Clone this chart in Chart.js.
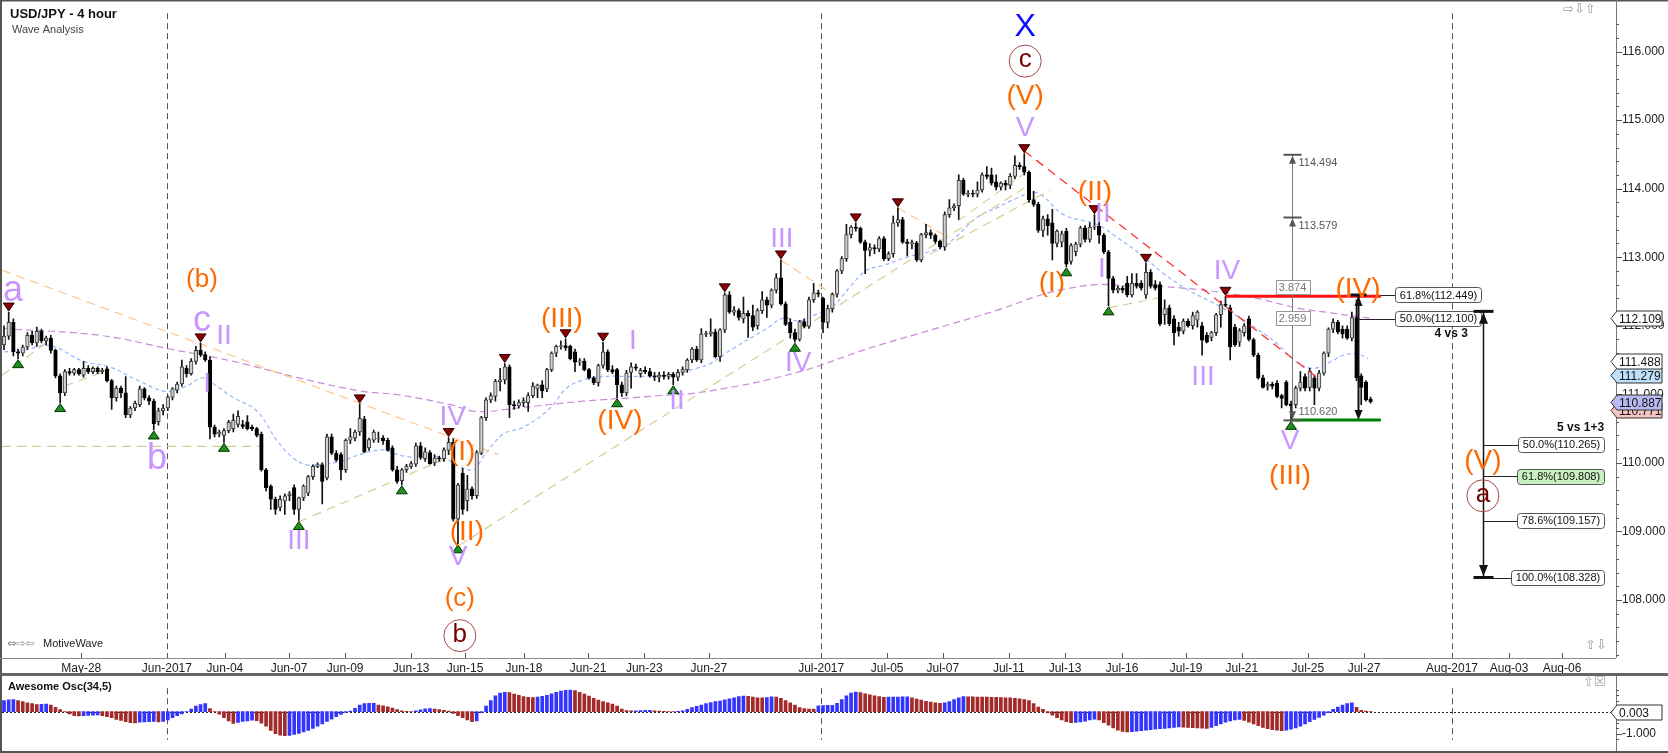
<!DOCTYPE html>
<html>
<head>
<meta charset="utf-8">
<title>USD/JPY - 4 hour</title>
<script src="https://cdn.jsdelivr.net/npm/chart.js@4.4.1/dist/chart.umd.min.js"></script>
<style>
html,body{margin:0;padding:0;background:#fff;overflow:hidden;}
#wrap{position:relative;width:1668px;height:753px;background:#fff;}
canvas{position:absolute;left:0;display:block;}
#c1{top:0;}
#c2{top:675px;}
</style>
</head>
<body>
<div id="wrap">
<canvas id="c1" width="1668" height="675"></canvas>
<canvas id="c2" width="1668" height="78"></canvas>
</div>
<script>
// ---------------- DATA (4-hour candles, bar index 0..292) ----------------
const open = [
111.72,111.85,112.05,111.62,111.60,111.69,111.86,111.75,111.92,111.78,
111.82,111.64,111.27,111.02,111.33,111.31,111.36,111.28,111.38,111.33,
111.38,111.33,111.37,111.20,110.95,111.09,111.02,110.70,110.80,110.85,
111.08,110.95,110.90,110.60,110.76,110.80,110.96,111.06,111.15,111.38,
111.30,111.48,111.64,111.58,111.50,110.52,110.42,110.40,110.47,110.50,
110.56,110.56,110.60,110.52,110.50,110.42,109.90,109.66,109.47,109.35,
109.44,109.52,109.64,109.32,109.49,109.56,109.80,109.95,109.97,109.78,
110.38,110.14,110.12,109.90,110.33,110.36,110.45,110.64,110.22,110.33,
110.35,110.36,110.33,110.22,109.90,109.74,109.90,109.95,109.98,110.25,
110.06,110.15,110.00,110.07,110.06,110.18,110.30,109.18,109.85,109.45,
109.62,109.52,110.14,110.66,110.92,110.97,111.18,111.21,111.40,110.85,
110.83,110.88,110.88,110.98,111.08,111.14,111.08,111.36,111.60,111.70,
111.71,111.70,111.62,111.47,111.48,111.36,111.24,111.17,111.42,111.62,
111.36,111.36,111.14,111.02,111.32,111.40,111.30,111.35,111.33,111.27,
111.25,111.28,111.26,111.29,111.25,111.32,111.36,111.50,111.66,111.50,
111.88,111.88,111.91,111.55,111.94,112.45,112.20,112.22,112.10,112.18,
112.15,112.00,112.22,112.38,112.30,112.52,112.70,112.32,112.05,111.90,
111.80,112.06,111.99,112.38,112.48,112.40,112.05,112.25,112.46,112.80,
112.98,113.33,113.44,113.42,113.22,113.10,113.14,113.12,113.27,112.98,
113.05,113.50,113.55,113.22,113.20,113.21,112.96,113.33,113.36,113.32,
113.23,113.15,113.62,113.72,113.75,114.12,113.92,113.93,113.92,113.98,
114.20,114.20,114.10,114.02,114.08,114.05,114.18,114.34,114.32,114.24,
113.84,113.77,113.39,113.56,113.50,113.20,113.22,113.38,112.94,113.08,
113.19,113.43,113.26,113.44,113.45,113.32,113.08,112.69,112.52,112.55,
112.62,112.45,112.62,112.62,112.45,112.78,112.60,112.60,112.16,112.26,
112.10,111.98,111.92,112.07,112.00,112.08,112.00,111.86,111.83,111.90,
112.16,112.31,112.26,111.98,111.76,111.90,112.10,111.80,111.57,111.24,
111.12,111.15,111.16,110.98,111.18,110.86,110.85,111.09,111.26,111.10,
111.24,111.09,111.31,111.60,111.95,112.05,111.95,111.95,111.82,112.12,
111.27,111.18,110.93];
const high = [
112.00,112.20,112.10,111.66,111.72,111.90,111.92,111.98,111.95,111.85,
111.86,111.66,111.30,111.36,111.38,111.38,111.38,111.48,111.42,111.40,
111.40,111.38,111.40,111.22,111.12,111.12,111.26,110.82,110.90,111.12,
111.10,110.98,110.93,110.80,110.85,110.98,111.10,111.18,111.50,111.42,
111.52,111.70,111.75,111.62,111.55,110.55,110.48,110.50,110.62,110.71,
110.76,110.62,110.69,110.55,110.52,110.45,109.92,109.68,109.50,109.52,
109.55,109.58,109.68,109.50,109.68,109.82,109.97,110.00,110.00,110.42,
110.42,110.18,110.15,110.35,110.50,110.48,110.86,110.68,110.36,110.48,
110.45,110.40,110.36,110.25,109.95,109.92,109.98,110.02,110.29,110.30,
110.22,110.18,110.12,110.10,110.22,110.37,110.35,109.70,109.92,109.82,
109.65,110.18,110.68,110.95,111.02,111.22,111.38,111.45,111.43,110.90,
110.92,110.95,111.02,111.17,111.15,111.20,111.38,111.62,111.72,111.78,
111.81,111.72,111.66,111.52,111.52,111.38,111.26,111.44,111.76,111.65,
111.42,111.38,111.18,111.35,111.46,111.44,111.38,111.40,111.38,111.32,
111.32,111.33,111.32,111.32,111.36,111.40,111.52,111.68,111.70,111.96,
111.92,112.10,111.95,111.96,112.48,112.50,112.28,112.25,112.42,112.22,
112.30,112.25,112.50,112.42,112.54,112.76,112.96,112.35,112.10,111.95,
112.08,112.10,112.42,112.62,112.52,112.42,112.30,112.48,112.82,113.01,
113.48,113.46,113.50,113.44,113.25,113.20,113.18,113.30,113.30,113.08,
113.60,113.72,113.58,113.26,113.25,113.23,113.35,113.48,113.40,113.34,
113.25,113.66,113.84,113.78,114.20,114.15,113.97,113.98,114.10,114.23,
114.32,114.30,114.20,114.10,114.12,114.22,114.48,114.38,114.51,114.26,
113.96,113.80,113.60,113.62,113.70,113.40,113.38,113.42,113.20,113.22,
113.45,113.46,113.50,113.62,113.52,113.35,113.10,112.72,112.58,112.58,
112.72,112.76,112.76,112.66,112.91,112.82,112.66,112.64,112.38,112.30,
112.15,112.05,112.10,112.10,112.20,112.22,112.05,111.90,111.92,112.18,
112.36,112.43,112.30,112.02,111.96,112.03,112.14,111.82,111.60,111.28,
111.18,111.18,111.20,111.00,111.20,110.90,111.12,111.33,111.30,111.38,
111.28,111.35,111.62,111.97,112.10,112.08,112.00,112.00,112.20,112.38,
111.30,111.20,110.96];
const low = [
111.65,111.80,111.56,111.52,111.56,111.66,111.72,111.70,111.75,111.72,
111.60,111.24,110.88,110.98,111.28,111.28,111.28,111.25,111.30,111.30,
111.30,111.30,111.18,110.78,110.90,110.95,110.66,110.66,110.76,110.82,
110.92,110.85,110.48,110.55,110.70,110.76,110.92,111.02,111.12,111.25,
111.28,111.44,111.55,111.48,110.35,110.38,110.38,110.30,110.44,110.45,
110.52,110.50,110.48,110.47,110.38,109.88,109.59,109.32,109.25,109.30,
109.25,109.45,109.25,109.16,109.45,109.52,109.76,109.93,109.40,109.75,
110.12,110.02,109.75,109.86,110.28,110.32,110.40,110.15,110.18,110.30,
110.30,110.27,110.17,109.88,109.70,109.68,109.86,109.92,109.95,110.05,
110.02,109.98,109.96,110.02,110.02,110.12,109.15,108.82,109.25,109.30,
109.47,109.48,110.12,110.62,110.88,110.90,111.05,111.15,110.66,110.78,
110.80,110.82,110.75,110.95,110.95,110.95,111.04,111.33,111.55,111.66,
111.64,111.50,111.33,111.42,111.34,111.22,111.14,111.12,111.38,111.33,
111.30,110.95,110.97,110.98,111.09,111.35,111.25,111.30,111.25,111.20,
111.18,111.22,111.22,111.14,111.20,111.28,111.32,111.46,111.48,111.46,
111.84,111.85,111.53,111.48,111.90,112.18,112.15,112.08,112.04,111.83,
111.93,111.95,112.18,112.12,112.26,112.48,112.30,112.00,111.82,111.76,
111.78,111.97,111.96,112.34,112.42,111.90,111.97,112.20,112.42,112.76,
112.94,113.28,113.38,113.20,112.76,113.02,113.05,113.08,112.95,112.95,
113.00,113.45,113.20,113.02,113.12,112.94,112.93,113.28,113.27,113.20,
113.12,113.10,113.58,113.68,113.55,113.90,113.88,113.88,113.88,113.95,
114.14,114.05,113.98,113.98,113.98,114.00,114.14,114.28,114.20,113.80,
113.74,113.36,113.30,113.32,112.96,113.15,113.15,112.86,112.90,113.02,
113.15,113.22,113.22,113.40,113.20,113.05,112.29,112.48,112.48,112.48,
112.42,112.42,112.55,112.52,112.40,112.55,112.52,112.00,112.02,112.00,
111.72,111.85,111.88,111.98,111.95,111.98,111.57,111.75,111.78,111.86,
111.98,112.28,111.50,111.70,111.70,111.85,111.78,111.55,111.22,111.09,
111.06,111.08,110.95,110.80,110.83,110.62,110.80,111.05,111.05,111.05,
110.85,111.05,111.28,111.55,111.90,111.88,111.82,111.80,111.78,111.20,
110.85,110.90,110.87];
const close = [
111.85,112.05,111.62,111.60,111.69,111.86,111.75,111.92,111.78,111.82,
111.64,111.27,111.02,111.33,111.31,111.36,111.30,111.38,111.33,111.38,
111.33,111.35,111.20,110.95,111.09,111.02,110.70,110.80,110.87,111.08,
110.95,110.90,110.57,110.76,110.80,110.96,111.08,111.15,111.40,111.30,
111.48,111.64,111.58,111.50,110.52,110.42,110.45,110.47,110.59,110.62,
110.68,110.53,110.50,110.50,110.40,109.90,109.64,109.47,109.32,109.47,
109.52,109.55,109.32,109.49,109.66,109.80,109.95,109.97,109.73,110.38,
110.14,110.04,109.90,110.33,110.38,110.45,110.65,110.16,110.34,110.45,
110.36,110.32,110.18,109.90,109.73,109.90,109.95,109.99,110.25,110.08,
110.16,109.99,110.07,110.06,110.19,110.30,109.18,109.68,109.32,109.62,
109.52,110.15,110.66,110.92,110.98,111.19,111.21,111.40,110.85,110.83,
110.88,110.91,110.98,111.12,111.14,111.05,111.36,111.60,111.70,111.71,
111.68,111.52,111.47,111.49,111.36,111.24,111.17,111.42,111.62,111.36,
111.33,111.14,111.02,111.31,111.40,111.38,111.35,111.33,111.27,111.25,
111.28,111.26,111.29,111.25,111.32,111.36,111.50,111.66,111.50,111.88,
111.88,111.91,111.55,111.94,112.45,112.20,112.22,112.12,112.18,112.14,
111.98,112.22,112.38,112.30,112.52,112.70,112.32,112.02,111.90,111.80,
112.06,111.99,112.38,112.48,112.46,112.05,112.25,112.46,112.80,112.98,
113.33,113.44,113.42,113.22,113.10,113.14,113.12,113.27,112.98,113.05,
113.50,113.55,113.22,113.20,113.21,112.96,113.33,113.36,113.32,113.23,
113.15,113.62,113.72,113.75,114.12,113.92,113.93,113.92,113.98,114.20,
114.18,114.08,114.02,114.08,114.05,114.18,114.34,114.32,114.24,113.84,
113.77,113.39,113.56,113.46,113.20,113.38,113.34,112.90,113.17,113.19,
113.43,113.26,113.44,113.45,113.32,113.08,112.69,112.52,112.55,112.52,
112.45,112.62,112.58,112.55,112.78,112.58,112.55,112.03,112.25,112.03,
111.90,111.92,112.07,112.00,112.15,112.20,111.79,111.76,111.90,112.16,
112.31,112.30,111.69,111.72,111.93,112.00,111.80,111.57,111.24,111.10,
111.15,111.12,110.97,110.94,110.85,110.83,111.09,111.18,111.09,111.34,
111.09,111.31,111.60,111.95,112.05,111.91,111.88,111.82,112.12,111.24,
111.10,110.92,110.89];

// Awesome Oscillator (34,5) values per bar
const aoValues = [
0.50,0.53,0.55,0.50,0.45,0.40,0.36,0.32,0.33,0.34,
0.30,0.19,0.09,0.00,-0.10,-0.18,-0.20,-0.19,-0.17,-0.16,
-0.15,-0.18,-0.23,-0.28,-0.35,-0.40,-0.46,-0.50,-0.51,-0.48,
-0.47,-0.46,-0.45,-0.47,-0.44,-0.38,-0.28,-0.18,-0.10,0.00,
0.12,0.25,0.32,0.36,0.14,0.00,-0.12,-0.28,-0.42,-0.54,
-0.49,-0.45,-0.42,-0.39,-0.41,-0.52,-0.66,-0.85,-1.00,-1.07,
-1.09,-1.08,-1.04,-0.99,-0.92,-0.85,-0.76,-0.66,-0.56,-0.45,
-0.34,-0.23,-0.13,-0.04,0.02,0.15,0.30,0.36,0.37,0.375,
0.30,0.26,0.22,0.16,0.09,0.03,0.01,0.005,0.03,0.08,
0.13,0.135,0.11,0.09,0.06,0.02,-0.08,-0.18,-0.28,-0.38,
-0.46,-0.42,-0.05,0.25,0.50,0.72,0.84,0.88,0.86,0.80,
0.74,0.68,0.65,0.64,0.66,0.69,0.74,0.81,0.88,0.93,
0.97,0.98,0.95,0.88,0.80,0.70,0.60,0.52,0.45,0.40,
0.34,0.25,0.12,0.05,0.03,0.04,0.05,0.055,0.06,0.04,
0.02,0.01,0.00,-0.005,0.01,0.03,0.10,0.18,0.24,0.30,
0.36,0.41,0.45,0.48,0.53,0.58,0.63,0.68,0.71,0.69,
0.66,0.63,0.62,0.64,0.67,0.66,0.60,0.50,0.40,0.30,
0.18,0.14,0.12,0.11,0.26,0.27,0.28,0.29,0.38,0.55,
0.72,0.84,0.89,0.86,0.81,0.76,0.72,0.68,0.65,0.655,
0.66,0.665,0.67,0.675,0.62,0.57,0.52,0.47,0.43,0.40,
0.38,0.40,0.46,0.55,0.62,0.68,0.675,0.67,0.665,0.66,
0.655,0.65,0.645,0.64,0.63,0.62,0.60,0.58,0.55,0.50,
0.36,0.20,0.10,-0.06,-0.16,-0.28,-0.38,-0.46,-0.50,-0.49,
-0.47,-0.43,-0.38,-0.34,-0.38,-0.50,-0.62,-0.74,-0.84,-0.90,
-0.92,-0.91,-0.89,-0.86,-0.84,-0.82,-0.80,-0.78,-0.76,-0.74,
-0.72,-0.70,-0.71,-0.72,-0.73,-0.74,-0.75,-0.76,-0.72,-0.64,
-0.56,-0.48,-0.42,-0.38,-0.36,-0.40,-0.48,-0.56,-0.64,-0.72,
-0.78,-0.82,-0.84,-0.86,-0.84,-0.80,-0.74,-0.66,-0.56,-0.46,
-0.36,-0.26,-0.16,-0.05,0.10,0.20,0.30,0.36,0.40,0.19,
0.06,0.02,0.003];

// Date axis: tick positions (bar index) and labels
const xTickIdx = [16.5,34.8,47.2,60.9,72.9,87.0,98.5,111.1,124.8,136.8,150.6,174.6,188.7,200.6,214.7,226.7,238.9,252.6,264.5,278.6,290.6,309.4,321.6,332.9];
const xTickLabels = ['May-28','Jun-2017','Jun-04','Jun-07','Jun-09','Jun-13','Jun-15','Jun-18','Jun-21','Jun-23','Jun-27','Jul-2017','Jul-05','Jul-07','Jul-11','Jul-13','Jul-16','Jul-19','Jul-21','Jul-25','Jul-27','Aug-2017','Aug-03','Aug-06'];
const priceTicks = [108,109,110,111,112,113,114,115,116];

// Moving averages (bar index, price)
const slowMaX = [0,20.5,34.8,49,63,76,84.6,95.3,101,109.6,123.8,138,150.9,170,184.3,198.6,212.8,220.7,226.4,233.5,240.6,247.8,254.8,262,269,276.2,283.3,289.7,292];
const slowMaY = [111.96,111.86,111.67,111.48,111.24,111.05,110.99,110.85,110.75,110.80,110.90,110.97,111.05,111.33,111.66,111.95,112.24,112.43,112.53,112.60,112.58,112.57,112.53,112.47,112.38,112.26,112.19,112.13,112.11];
const fastMaX = [0,4,9.8,17,22.6,29,34.8,39,42.6,45.4,49,54,58.3,61.8,64.7,67.5,71.8,76,81,84.6,88.2,93.9,96.7,100.3,102.4,106.7,111,116.7,120.2,123.8,128,134.4,141.6,148,150.9,155.8,163,166.5,170,173.6,177.2,180.8,184.3,187.9,192.9,198.6,202.1,207.9,212.1,216.4,220.7,226.4,233.5,237.8,242.7,247.8,252.8,258.5,263.5,267.8,272,276.2,279.8,283.3,286.2,289,291.5];
const fastMaY = [111.62,111.64,111.71,111.48,111.40,111.19,111.04,111.12,111.24,111.12,110.95,110.76,110.33,110.07,109.97,109.98,110.02,110.12,110.19,110.11,110.08,110.08,109.97,109.90,110.09,110.42,110.52,110.80,111.09,111.21,111.26,111.26,111.28,111.38,111.45,111.67,111.96,112.11,112.07,112.17,112.29,112.57,112.81,112.88,113.00,113.10,113.22,113.58,113.72,113.86,113.94,113.62,113.48,113.29,113.05,112.76,112.53,112.33,112.14,111.95,111.74,111.47,111.38,111.47,111.57,111.59,111.52];

// Trend / channel lines [i1, p1, i2, p2]
const orangeLines = [[-0.4,112.81,105.6,110.12],[166,112.96,179.3,112.36],[191,113.72,202.2,113.27]];
const khakiLines = [[-0.4,110.24,55.4,110.24],[-0.4,111.28,9.8,111.79],[12.9,111.12,22.6,111.36],[63,109.14,95.3,110.09],[97.3,108.80,218,114.01],[195,112.94,223.5,113.98],[203.9,113.53,218.6,114.25],[236,112.26,248.4,112.43]];
const redDashLine = [218,114.55,280.5,111.25];
const resistanceLine = [261,112.43,294.2,112.43];
const supportLine = [275,110.625,294.2,110.625];

// Swing markers (bar indices)
const highMarks = [1,42,76,95,107,120,128,154,166,182,191,218,233,244,261];
const lowMarks = [3,12,32,47,63,85,97,131,143,169,227,236,275];

// Wave labels: text, bar index, price, kind, size
const waveLabels = [
['a',1.9,112.50,'P',36],['(b)',42.3,112.67,'O',26],['c',42.3,112.07,'P',36],['II',47.0,111.84,'P',28],
['I',43.4,111.14,'P',28],['b',32.7,110.06,'P',36],['III',63.0,108.85,'P',28],['IV',95.9,110.67,'P',28],
['(I)',97.9,110.16,'O',28],['(II)',98.9,108.99,'O',28],['V',97.0,108.62,'P',28],['(c)',97.4,108.01,'O',26],
['b',97.4,107.48,'C',26],['(III)',119.2,112.10,'O',28],['(IV)',131.6,110.61,'O',28],['I',134.4,111.78,'P',28],
['II',143.8,110.90,'P',28],['III',166.2,113.26,'P',28],['IV',169.7,111.46,'P',28],['X',218.2,116.36,'B',32],
['c',218.2,115.86,'C',26],['(V)',218.2,115.35,'O',28],['V',218.2,114.88,'P',28],['(II)',233.1,113.94,'O',28],
['II',234.8,113.62,'P',28],['I',234.6,112.83,'P',28],['(I)',223.9,112.62,'O',28],['IV',261.3,112.79,'P',28],
['III',256.2,111.25,'P',28],['V',274.8,110.32,'P',28],['(III)',274.8,109.81,'O',28],['(IV)',289.3,112.53,'O',28],
['(V)',316.0,110.02,'O',28],['a',316.0,109.52,'C',26]];

// Measurement tool and Fibonacci projections
const measureIdx = 275.15, measureLow = 110.62, measureTop = 114.494, measureMid = 113.579;
const measureBoxes = [['3.874',112.57],['2.959',112.11]];
const waveIVArrow = {i:289.3, top:112.449, bottom:110.625};
const fibLeft = [['61.8%(112.449)',112.449,294.2,'#ffffff'],['50.0%(112.100)',112.100,289.3,'#ffffff']];
const fibLeftBoxX = 297.2;
const projArrow = {i:316.0, top:112.21, bottom:108.328};
const fibRight = [['50.0%(110.265)',110.265,'#ffffff'],['61.8%(109.808)',109.808,'#c8f0c0'],['78.6%(109.157)',109.157,'#ffffff'],['100.0%(108.328)',108.328,'#ffffff']];
const fibRightBoxEnd = 341.9;
const noteLabels = [['4 vs 3',312.8,111.885],['5 vs 1+3',341.9,110.509]];
const axisTags = [[110.771,'#f6c4c4'],[110.887,'#b8b8f2'],[111.279,'#bfe0f8'],[111.488,'#ffffff'],[112.109,'#ffffff']];
const aoLast = 0.003;

// ---------------- RENDERING ----------------
const FONT = '"Liberation Sans", Arial, sans-serif';
const idx = close.map((_, i) => i);
const isUp = idx.map(i => close[i] >= open[i]);
const wickData = idx.map(i => ({x: i, y: [Math.min(low[i], open[i], close[i]), Math.max(high[i], open[i], close[i])]}));
const bodyData = idx.map(i => {
  let a = Math.min(open[i], close[i]), b = Math.max(open[i], close[i]);
  if (b - a < 0.014) { const m = (a + b) / 2; a = m - 0.007; b = m + 0.007; }
  return {x: i, y: [a, b]};
});
const pts = (xs, ys) => xs.map((x, k) => ({x: x, y: ys[k]}));
const seg = s => [{x: s[0], y: s[1]}, {x: s[2], y: s[3]}];
const monthIdx = xTickIdx.filter((v, k) => xTickLabels[k].indexOf('2017') >= 0);
const X_MIN = -0.43, X_MAX = 344.44;

function lineDs(data, color, dash, width, order, tension) {
  return {type: 'line', data: data, borderColor: color, borderDash: dash, borderWidth: width,
    pointRadius: 0, fill: false, tension: tension || 0, order: order};
}

const datasets1 = [];
datasets1.push(lineDs(pts(slowMaX, slowMaY), '#c98ad8', [7, 4], 1.2, 6, 0.4));
datasets1.push(lineDs(pts(fastMaX, fastMaY), '#93b5ff', [4, 3], 1.2, 6, 0.4));
orangeLines.forEach(s => datasets1.push(lineDs(seg(s), '#ffc68c', [9, 6], 1.2, 5)));
khakiLines.forEach(s => datasets1.push(lineDs(seg(s), '#d6cc96', [9, 6], 1.2, 5)));
datasets1.push({type: 'bar', data: wickData, backgroundColor: '#111', barThickness: 1, grouped: false, order: 3});
datasets1.push({type: 'bar', data: bodyData, backgroundColor: isUp.map(u => u ? '#cfcfcf' : '#000'),
  borderColor: isUp.map(u => u ? '#3a3a3a' : '#000'), borderWidth: 1, borderSkipped: false,
  barThickness: 3.6, grouped: false, order: 2});
datasets1.push(lineDs(seg(redDashLine), '#ff3030', [9, 6], 1.3, 1));
datasets1.push(lineDs(seg(resistanceLine), '#ff1010', [], 3, 0));
datasets1.push(lineDs(seg(supportLine), '#008000', [], 3, 0));

function tri(ctx, x, y, w, h, dir, fill, stroke) {
  ctx.beginPath();
  if (dir === 'down') { ctx.moveTo(x - w / 2, y - h / 2); ctx.lineTo(x + w / 2, y - h / 2); ctx.lineTo(x, y + h / 2); }
  else { ctx.moveTo(x - w / 2, y + h / 2); ctx.lineTo(x + w / 2, y + h / 2); ctx.lineTo(x, y - h / 2); }
  ctx.closePath(); ctx.fillStyle = fill; ctx.fill();
  if (stroke) { ctx.strokeStyle = stroke; ctx.lineWidth = 1; ctx.stroke(); }
}
function hline(ctx, x1, x2, y, color, w) {
  ctx.strokeStyle = color; ctx.lineWidth = w || 1; ctx.beginPath();
  ctx.moveTo(x1, Math.round(y) + 0.5); ctx.lineTo(x2, Math.round(y) + 0.5); ctx.stroke();
}
function rrect(ctx, x, y, w, h, r) {
  ctx.beginPath(); ctx.moveTo(x + r, y); ctx.lineTo(x + w - r, y); ctx.quadraticCurveTo(x + w, y, x + w, y + r);
  ctx.lineTo(x + w, y + h - r); ctx.quadraticCurveTo(x + w, y + h, x + w - r, y + h); ctx.lineTo(x + r, y + h);
  ctx.quadraticCurveTo(x, y + h, x, y + h - r); ctx.lineTo(x, y + r); ctx.quadraticCurveTo(x, y, x + r, y); ctx.closePath();
}
function fibBox(ctx, xEdge, yc, txt, bg, alignRight) {
  ctx.font = '11px ' + FONT;
  const w = Math.ceil(ctx.measureText(txt).width) + 8, h = 15;
  const left = Math.round(alignRight ? xEdge - w : xEdge) + 0.5, top = Math.round(yc - h / 2) + 0.5;
  rrect(ctx, left, top, w, h, 3); ctx.fillStyle = bg; ctx.fill(); ctx.strokeStyle = '#555'; ctx.lineWidth = 1; ctx.stroke();
  ctx.fillStyle = '#111'; ctx.textAlign = 'center'; ctx.textBaseline = 'middle'; ctx.fillText(txt, left + w / 2, yc + 0.5);
  return left;
}
function axisTag(ctx, x, y, txt, bg) {
  const h = 15, w = 51; y = Math.round(y) + 0.5;
  ctx.beginPath(); ctx.moveTo(x, y); ctx.lineTo(x + 6, y - h / 2); ctx.lineTo(x + w, y - h / 2); ctx.lineTo(x + w, y + h / 2);
  ctx.lineTo(x + 6, y + h / 2); ctx.closePath(); ctx.fillStyle = bg; ctx.fill(); ctx.strokeStyle = '#333'; ctx.lineWidth = 1; ctx.stroke();
  ctx.fillStyle = '#111'; ctx.font = '12px ' + FONT; ctx.textAlign = 'left'; ctx.textBaseline = 'middle'; ctx.fillText(txt, x + 8, y + 1);
}
function monthLines(chart) {
  const {ctx, chartArea: a, scales: {x}} = chart;
  ctx.save(); ctx.strokeStyle = '#555'; ctx.lineWidth = 1; ctx.setLineDash([6, 4]);
  monthIdx.forEach(v => { const px = Math.round(x.getPixelForValue(v)) + 0.5; ctx.beginPath(); ctx.moveTo(px, a.top); ctx.lineTo(px, a.bottom); ctx.stroke(); });
  ctx.restore();
}

const overlay1 = {
  id: 'overlay1',
  beforeDatasetsDraw(chart) { monthLines(chart); },
  afterDraw(chart) {
    const {ctx, chartArea: a, scales: {x, y}} = chart;
    const X = v => x.getPixelForValue(v), Y = v => y.getPixelForValue(v);
    ctx.save();
    // swing markers
    highMarks.forEach(i => tri(ctx, X(i), Y(high[i]) - 5, 11, 8, 'down', '#8b0000', '#2a0000'));
    lowMarks.forEach(i => tri(ctx, X(i), Y(low[i]) + 5, 11, 8, 'up', '#1f8f1f', '#003300'));

    // grey measurement tool
    const mx = Math.round(X(measureIdx)) + 0.5;
    ctx.strokeStyle = '#7a7a7a'; ctx.lineWidth = 1; ctx.beginPath(); ctx.moveTo(mx, Y(measureLow)); ctx.lineTo(mx, Y(measureTop)); ctx.stroke();
    [measureTop, measureMid].forEach(p => {
      const py = Y(p); ctx.fillStyle = '#555'; ctx.fillRect(mx - 9, py - 1, 18, 2);
      tri(ctx, mx, py + 5, 7, 8, 'up', '#555');
      ctx.fillStyle = '#555'; ctx.font = '11px ' + FONT; ctx.textAlign = 'left'; ctx.textBaseline = 'middle';
      ctx.fillText(p.toFixed(3), mx + 6, py + 8);
    });
    const pyl = Y(measureLow);
    tri(ctx, mx, pyl - 5, 7, 8, 'down', '#555'); ctx.fillStyle = '#555'; ctx.fillRect(mx - 9, pyl - 1, 18, 2);
    ctx.fillStyle = '#666'; ctx.font = '11px ' + FONT; ctx.textAlign = 'left'; ctx.textBaseline = 'middle';
    ctx.fillText(measureLow.toFixed(3), mx + 6, pyl - 8);
    measureBoxes.forEach(b => {
      ctx.font = '11px ' + FONT; const w = Math.ceil(ctx.measureText(b[0]).width) + 6, h = 14, yc = Y(b[1]);
      const l = Math.round(mx - w / 2) + 0.5, t = Math.round(yc - h / 2) + 0.5;
      ctx.fillStyle = '#fff'; ctx.fillRect(l, t, w, h); ctx.strokeStyle = '#999'; ctx.strokeRect(l, t, w, h);
      ctx.fillStyle = '#777'; ctx.textAlign = 'center'; ctx.fillText(b[0], mx, yc + 1);
    });

    // wave (IV) arrow
    const ax = Math.round(X(waveIVArrow.i)) + 0.5, at = Y(waveIVArrow.top), ab = Y(waveIVArrow.bottom);
    ctx.strokeStyle = '#111'; ctx.lineWidth = 2; ctx.beginPath(); ctx.moveTo(ax, at); ctx.lineTo(ax, ab - 6); ctx.stroke();
    ctx.fillStyle = '#111'; ctx.fillRect(ax - 8, at - 1.5, 16, 3);
    tri(ctx, ax, at + 6, 8, 10, 'up', '#111');
    tri(ctx, ax, ab - 5, 8, 10, 'down', '#111');

    // fib lines from wave (IV)
    fibLeft.forEach(f => {
      const yy = Y(f[1]); hline(ctx, X(f[2]), X(fibLeftBoxX), yy, '#222', 1);
      fibBox(ctx, X(fibLeftBoxX), yy, f[0], f[3], false);
    });

    // projection arrow
    const px = Math.round(X(projArrow.i)) + 0.5, pt = Y(projArrow.top), pb = Y(projArrow.bottom);
    ctx.strokeStyle = '#111'; ctx.lineWidth = 1.5; ctx.beginPath(); ctx.moveTo(px, pt); ctx.lineTo(px, pb); ctx.stroke();
    ctx.fillStyle = '#111'; ctx.fillRect(px - 10, pt - 1.5, 20, 3); ctx.fillRect(px - 10, pb - 1.5, 20, 3);
    tri(ctx, px, pt + 7, 9, 11, 'up', '#111');
    tri(ctx, px, pb - 7, 9, 11, 'down', '#111');
    fibRight.forEach(f => {
      const yy = Y(f[1]);
      ctx.font = '11px ' + FONT; const w = Math.ceil(ctx.measureText(f[0]).width) + 8;
      hline(ctx, px, X(fibRightBoxEnd) - w, yy, '#222', 1);
      fibBox(ctx, X(fibRightBoxEnd), yy, f[0], f[2], true);
    });
    noteLabels.forEach(n => {
      ctx.fillStyle = '#111'; ctx.font = 'bold 12px ' + FONT; ctx.textAlign = 'right'; ctx.textBaseline = 'middle';
      ctx.fillText(n[0], X(n[1]), Y(n[2]));
    });

    // wave labels
    const colors = {P: '#c896ff', O: '#ff6a00', B: '#0a0aff', C: '#7a0000'};
    waveLabels.forEach(l => {
      const lx = X(l[1]), ly = Y(l[2]);
      if (l[3] === 'C') {
        ctx.beginPath(); ctx.arc(lx, ly, 16, 0, Math.PI * 2); ctx.strokeStyle = '#a84a4a'; ctx.lineWidth = 1; ctx.stroke();
      }
      ctx.fillStyle = colors[l[3]]; ctx.font = l[4] + 'px ' + FONT; ctx.textAlign = 'center'; ctx.textBaseline = 'middle';
      ctx.fillText(l[0], lx, ly + (l[3] === 'C' ? -1 : 0));
    });

    // frame & axes
    ctx.fillStyle = '#555'; ctx.fillRect(0, 0, 1668, 1.5); ctx.fillRect(0, 0, 2, 675);
    ctx.fillStyle = '#666'; ctx.fillRect(0, 673, 1668, 2);
    hline(ctx, 0, a.right, a.bottom, '#8a8a8a', 1);
    ctx.strokeStyle = '#777'; ctx.lineWidth = 1; ctx.beginPath(); ctx.moveTo(a.right + 0.5, 0); ctx.lineTo(a.right + 0.5, a.bottom); ctx.stroke();
    // y ticks
    ctx.strokeStyle = '#555';
    y.ticks.forEach(t => {
      const yy = Math.round(Y(t.value)) + 0.5; const major = priceTicks.indexOf(Math.round(t.value * 10) / 10) >= 0;
      ctx.beginPath(); ctx.moveTo(a.right, yy); ctx.lineTo(a.right + (major ? 6 : 3), yy); ctx.stroke();
    });
    // x ticks (inside plot)
    xTickIdx.forEach(v => { const xx = Math.round(X(v)) + 0.5; ctx.beginPath(); ctx.moveTo(xx, a.bottom); ctx.lineTo(xx, a.bottom - 5); ctx.stroke(); });

    // right axis value tags
    axisTags.forEach(t => axisTag(ctx, a.right - 5, Y(t[0]), t[0].toFixed(3), t[1]));

    // titles & icons
    ctx.fillStyle = '#111'; ctx.font = 'bold 13px ' + FONT; ctx.textAlign = 'left'; ctx.textBaseline = 'middle';
    ctx.fillText('USD/JPY - 4 hour', 10, 14);
    ctx.fillStyle = '#444'; ctx.font = '11px ' + FONT; ctx.fillText('Wave Analysis', 12, 30);
    ctx.fillStyle = '#999'; ctx.font = '13px "DejaVu Sans", sans-serif'; ctx.fillText('\u21E8\u21E9\u21E7', 1563, 10);
    ctx.fillText('\u21E7\u21E9', 1585, 646);
    ctx.fillStyle = '#888'; ctx.font = '11px "DejaVu Sans", sans-serif'; ctx.fillText('\u21D4\u21E8\u21E6', 7, 644);
    ctx.fillStyle = '#222'; ctx.font = '11px ' + FONT; ctx.fillText('MotiveWave', 43, 644);
    ctx.restore();
  }
};

const chart1 = new Chart(document.getElementById('c1'), {
  type: 'bar',
  data: {datasets: datasets1},
  options: {
    responsive: false, animation: false, devicePixelRatio: 1, events: [],
    layout: {padding: {left: 2, top: 2, right: 0, bottom: 0}},
    plugins: {legend: {display: false}, tooltip: {enabled: false}},
    scales: {
      x: {type: 'linear', min: X_MIN, max: X_MAX, offset: false,
        afterFit(s) { s.height = 17; },
        afterBuildTicks(s) { s.ticks = xTickIdx.map(v => ({value: v})); },
        ticks: {autoSkip: false, maxRotation: 0, padding: 3, color: '#222', font: {family: FONT, size: 12},
          callback: (v, i) => xTickLabels[i]},
        grid: {display: false, drawTicks: false, offset: false}, border: {display: false}},
      y: {type: 'linear', position: 'right', min: 107.154, max: 116.559,
        afterFit(s) { s.width = 52; },
        afterBuildTicks(s) { const t = []; for (let k = 1072; k <= 1164; k += 2) t.push({value: k / 10}); s.ticks = t; },
        ticks: {autoSkip: false, padding: 6, color: '#222', font: {family: FONT, size: 12},
          callback: v => priceTicks.indexOf(Math.round(v * 10) / 10) >= 0 ? v.toFixed(3) : ''},
        grid: {display: false, drawTicks: false}, border: {display: false}}
    }
  },
  plugins: [overlay1]
});

// ---------------- Awesome Oscillator panel ----------------
const aoColors = aoValues.map((v, i) => (i === 0 || v >= aoValues[i - 1]) ? '#3434ff' : '#a32a2a');
const aoTicks = [-1.25, -1, -0.75, -0.5, -0.25, 0, 0.25, 0.5, 0.75, 1];
const overlay2 = {
  id: 'overlay2',
  beforeDatasetsDraw(chart) {
    monthLines(chart);
    const {ctx, chartArea: a, scales: {y}} = chart;
    ctx.save(); ctx.setLineDash([2, 2]); hline(ctx, a.left, a.right, y.getPixelForValue(aoLast), '#222', 1); ctx.restore();
  },
  afterDraw(chart) {
    const {ctx, chartArea: a, scales: {y}} = chart;
    ctx.save();
    ctx.fillStyle = '#666'; ctx.fillRect(0, 0, 1668, 1);
    ctx.fillStyle = '#555'; ctx.fillRect(0, 0, 2, 78); ctx.fillRect(0, 76, 1668, 2);
    ctx.strokeStyle = '#777'; ctx.lineWidth = 1; ctx.beginPath(); ctx.moveTo(a.right + 0.5, 1); ctx.lineTo(a.right + 0.5, 76); ctx.stroke();
    ctx.strokeStyle = '#555';
    y.ticks.forEach(t => { const yy = Math.round(y.getPixelForValue(t.value)) + 0.5; ctx.beginPath(); ctx.moveTo(a.right, yy); ctx.lineTo(a.right + (t.value === -1 ? 6 : 3), yy); ctx.stroke(); });
    axisTag(ctx, a.right - 5, y.getPixelForValue(aoLast), aoLast.toFixed(3), '#ffffff');
    ctx.fillStyle = '#111'; ctx.font = 'bold 11px ' + FONT; ctx.textAlign = 'left'; ctx.textBaseline = 'middle';
    ctx.fillText('Awesome Osc(34,5)', 8, 12);
    ctx.fillStyle = '#aaa'; ctx.font = '13px "DejaVu Sans", sans-serif'; ctx.fillText('\u21E7\u2612', 1583, 8);
    ctx.restore();
  }
};
const chart2 = new Chart(document.getElementById('c2'), {
  type: 'bar',
  data: {datasets: [{type: 'bar', data: aoValues.map((v, i) => ({x: i, y: v})), backgroundColor: aoColors,
    barThickness: 3, grouped: false}]},
  options: {
    responsive: false, animation: false, devicePixelRatio: 1, events: [],
    layout: {padding: {left: 2, top: 1, right: 0, bottom: 2}},
    plugins: {legend: {display: false}, tooltip: {enabled: false}},
    scales: {
      x: {type: 'linear', min: X_MIN, max: X_MAX, offset: false, display: false},
      y: {type: 'linear', position: 'right', min: -1.28, max: 1.0625,
        afterFit(s) { s.width = 52; },
        afterBuildTicks(s) { s.ticks = aoTicks.map(v => ({value: v})); },
        ticks: {autoSkip: false, padding: 6, color: '#222', font: {family: FONT, size: 12},
          callback: v => v === -1 ? '-1.000' : ''},
        grid: {display: false, drawTicks: false}, border: {display: false}}
    }
  },
  plugins: [overlay2]
});
</script>
</body>
</html>
